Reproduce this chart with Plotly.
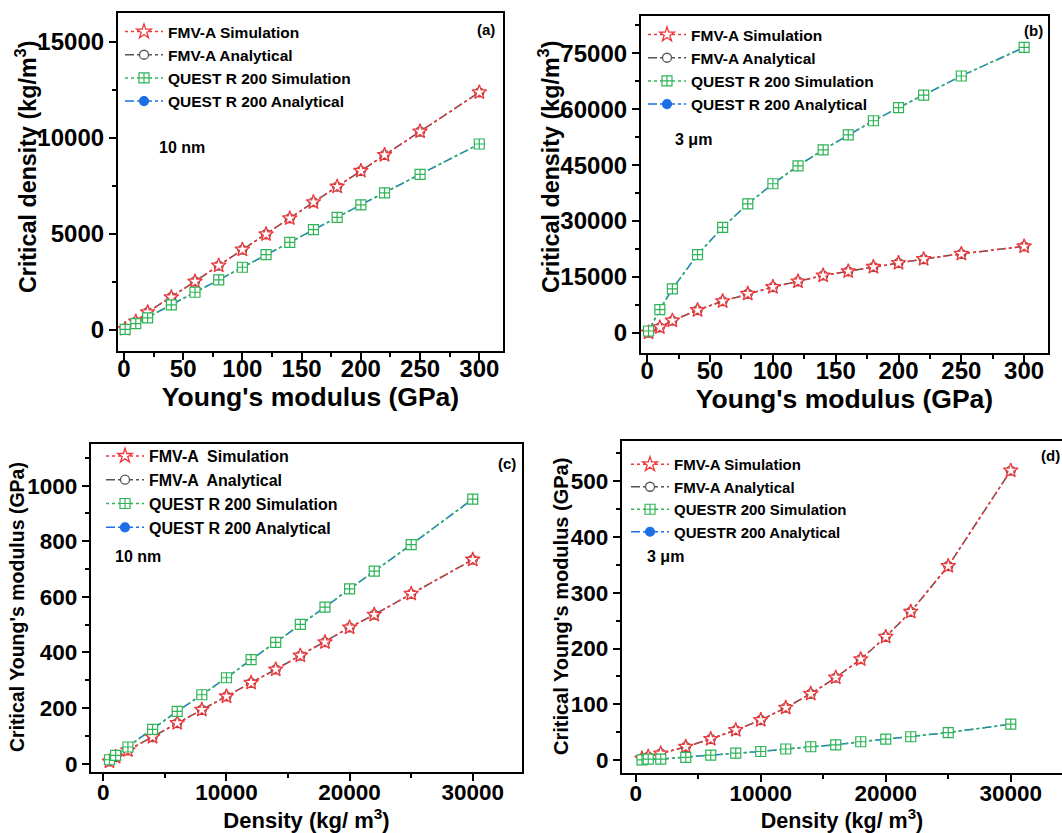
import plotly.graph_objects as go

# ---------------- data ----------------
E_ab = [1, 10, 20, 40, 60, 80, 100, 120, 140, 160, 180, 200, 220, 250, 300]
a_fmv = [50, 430, 920, 1700, 2520, 3350, 4180, 4980, 5810, 6650, 7460, 8280, 9110, 10330, 12370]
a_quest = [30, 330, 625, 1300, 1960, 2600, 3260, 3920, 4560, 5220, 5860, 6510, 7130, 8100, 9680]

b_fmv = [100, 1500, 3300, 6100, 8500, 10500, 12300, 13800, 15400, 16500, 17700, 18750, 19800, 21200, 23200]
b_quest = [500, 6250, 11800, 21000, 28300, 34600, 40000, 44800, 49100, 53100, 56900, 60400, 63800, 68900, 76600]

rho_cd = [500, 1000, 2000, 4000, 6000, 8000, 10000, 12000, 14000, 16000, 18000, 20000, 22000, 25000, 30000]
c_fmv = [8, 24, 48, 96, 146, 194, 242, 291, 339, 389, 437, 490, 536, 611, 734]
c_quest = [14, 30, 60, 123, 188, 248, 309, 374, 436, 501, 563, 629, 693, 788, 952]

d_fmv = [3, 6.5, 12, 24, 38, 54, 72, 94, 119, 148, 181, 221, 266, 348, 519]
d_quest = [0.5, 2, 2, 5, 9, 12.5, 15.5, 20, 24, 27.5, 33, 37.6, 42, 49.5, 64.5]

names_ab = ["FMV-A Simulation", "FMV-A Analytical", "QUEST R 200 Simulation", "QUEST R 200 Analytical"]
names_c = ["FMV-A  Simulation", "FMV-A  Analytical", "QUEST R 200 Simulation", "QUEST R 200 Analytical"]
names_d = ["FMV-A Simulation", "FMV-A Analytical", "QUESTR 200 Simulation", "QUESTR 200 Analytical"]

xtitle_ab = "Young's modulus (GPa)"
ytitle_ab = "Critical density (kg/m<sup>3</sup>)"
xtitle_cd = "Density (kg/ m<sup>3</sup>)"
ytitle_cd = "Critical Young's modulus (GPa)"

# ---------------- styling ----------------
FONT = "Liberation Sans, Arial, sans-serif"
RED = "#f2363a"
GRAY = "#555555"
GREEN = "#2fb457"
BLUE = "#1e6fe6"

fig = go.Figure()

panels = [
    dict(x=E_ab, fmv=a_fmv, quest=a_quest, names=names_ab, xa="x", ya="y", leg="legend"),
    dict(x=E_ab, fmv=b_fmv, quest=b_quest, names=names_ab, xa="x2", ya="y2", leg="legend2"),
    dict(x=rho_cd, fmv=c_fmv, quest=c_quest, names=names_c, xa="x3", ya="y3", leg="legend3"),
    dict(x=rho_cd, fmv=d_fmv, quest=d_quest, names=names_d, xa="x4", ya="y4", leg="legend4"),
]

for p in panels:
    common = dict(xaxis=p["xa"], yaxis=p["ya"], legend=p["leg"], mode="lines+markers")
    # analytical (drawn first, under the simulation markers)
    fig.add_trace(go.Scatter(x=p["x"], y=p["fmv"], name=p["names"][1], legendrank=2,
                             line=dict(color=GRAY, width=1.5, dash="dashdot"),
                             marker=dict(symbol="circle", size=9, color="white",
                                         line=dict(width=1.3, color=GRAY)),
                             **common))
    fig.add_trace(go.Scatter(x=p["x"], y=p["quest"], name=p["names"][3], legendrank=4,
                             line=dict(color=BLUE, width=1.5, dash="dashdot"),
                             marker=dict(symbol="circle", size=9, color=BLUE,
                                         line=dict(width=1.2, color=BLUE)),
                             **common))
    # simulation
    fig.add_trace(go.Scatter(x=p["x"], y=p["fmv"], name=p["names"][0], legendrank=1,
                             line=dict(color=RED, width=1.5, dash="dot"),
                             marker=dict(symbol="star", size=11, color="white",
                                         line=dict(width=1.3, color=RED)),
                             **common))
    fig.add_trace(go.Scatter(x=p["x"], y=p["quest"], name=p["names"][2], legendrank=3,
                             line=dict(color=GREEN, width=1.5, dash="dot"),
                             marker=dict(symbol="square-cross", size=10, color="white",
                                         line=dict(width=1.2, color=GREEN)),
                             **common))

W, H = 1062, 833


def dom_x(a, b):
    return [a / W, min(b / W, 1.0)]


def dom_y(top, bot):
    return [(H - bot) / H, (H - top) / H]


def axis(domain, rng, dtick, minor_dtick, tfont, anchor, title="", tsize=20, standoff=4, lstand=0):
    return dict(
        domain=domain, range=rng, dtick=dtick, tick0=0, anchor=anchor,
        tickformat="d",
        showline=True, linecolor="black", linewidth=2.2, mirror=True,
        ticks="outside", ticklen=7, tickwidth=2, tickcolor="black",
        ticklabelstandoff=lstand,
        minor=dict(ticks="outside", ticklen=4, tickwidth=1.8, tickcolor="black", dtick=minor_dtick),
        showgrid=False, zeroline=False, automargin=False,
        tickfont=dict(family=FONT, size=tfont, color="black", weight="bold"),
        title=dict(text=title, font=dict(family=FONT, size=tsize, color="black", weight="bold"),
                   standoff=standoff),
    )


fig.update_layout(
    width=W, height=H, margin=dict(l=0, r=0, t=0, b=0),
    paper_bgcolor="white", plot_bgcolor="white", template="none",
    showlegend=True,
    font=dict(family=FONT, color="black"),
    xaxis=axis(dom_x(118, 503), [-5, 320], 50, 25, 24, "y", xtitle_ab, 26.5, 6, -12),
    yaxis=axis(dom_y(13, 351), [-1100, 16500], 5000, 2500, 24, "x"),
    xaxis2=axis(dom_x(641, 1048), [-5, 319], 50, 25, 24, "y2", xtitle_ab, 26.5, 6, -12),
    yaxis2=axis(dom_y(16, 353), [-5400, 85000], 15000, 7500, 24, "x2"),
    xaxis3=axis(dom_x(91, 522), [-1000, 34000], 10000, 5000, 22.5, "y3", xtitle_cd, 22, 9, -8),
    yaxis3=axis(dom_y(444, 772), [-30, 1150], 200, 100, 22.5, "x3"),
    xaxis4=axis(dom_x(622, 1062), [-1100, 34100], 10000, 5000, 22.5, "y4", xtitle_cd, 21.5, 9, -8),
    yaxis4=axis(dom_y(441, 773), [-23, 572], 100, 50, 22.5, "x4"),
)

# y-axis titles (placed precisely as rotated text)
for text, cx, cy, size in [(ytitle_ab, 26, 167, 23.3), (ytitle_ab, 549, 167, 23.3),
                           (ytitle_cd, 17, 607, 19.5), (ytitle_cd, 561, 607, 20)]:
    fig.add_annotation(text=text, x=cx / W, y=(H - cy) / H, xref="paper", yref="paper",
                       xanchor="center", yanchor="middle", textangle=-90, showarrow=False,
                       font=dict(family=FONT, size=size, color="black", weight="bold"))

leg_common = dict(bgcolor="rgba(0,0,0,0)", borderwidth=0, xanchor="left", yanchor="top",
                  itemwidth=38, tracegroupgap=0, traceorder="normal")
fig.update_layout(
    legend=dict(x=120 / W, y=(H - 15) / H, font=dict(family=FONT, size=15.5, color="black", weight="bold"), **leg_common),
    legend2=dict(x=643 / W, y=(H - 18) / H, font=dict(family=FONT, size=15.5, color="black", weight="bold"), **leg_common),
    legend3=dict(x=101 / W, y=(H - 439) / H, font=dict(family=FONT, size=16, color="black", weight="bold"), **leg_common),
    legend4=dict(x=626 / W, y=(H - 448) / H, font=dict(family=FONT, size=15, color="black", weight="bold"), **leg_common),
)

ann_font = dict(family=FONT, size=16, color="black", weight="bold")
lab_font = dict(family=FONT, size=15, color="black", weight="bold")
anns = [
    ("(a)", 497, 29, "right", lab_font), ("10 nm", 157, 148, "left", ann_font),
    ("(b)", 1045, 30, "right", lab_font), ("3 μm", 673, 139, "left", ann_font),
    ("(c)", 518, 463, "right", lab_font), ("10 nm", 113, 556, "left", ann_font),
    ("(d)", 1062, 455, "right", lab_font), ("3 μm", 645, 556, "left", ann_font),
]
for text, px, py, anchor, f in anns:
    fig.add_annotation(text=text, x=px / W, y=(H - py) / H, xref="paper", yref="paper",
                       xanchor=anchor, yanchor="middle", showarrow=False, font=f)

fig.write_html("out.html")
